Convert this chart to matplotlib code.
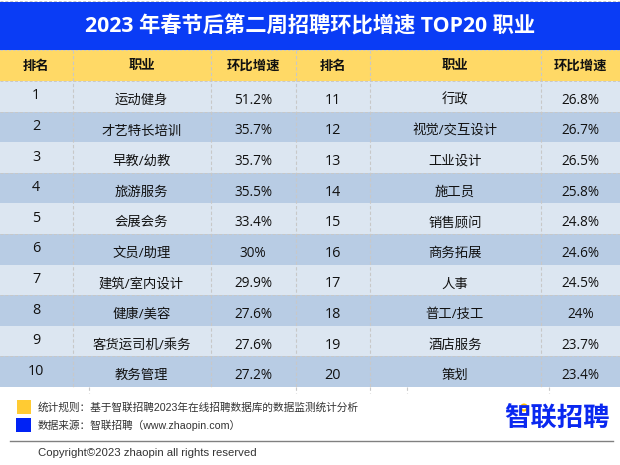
import matplotlib
matplotlib.use('Agg')
import matplotlib.pyplot as plt
from matplotlib.patches import Rectangle, Circle

# Latin and digits from Open Sans, everything else falls through to the CJK family
plt.rcParams['font.family'] = ['Open Sans', 'Noto Sans CJK SC', 'DejaVu Sans']

title = '2023 年春节后第二周招聘环比增速 TOP20 职业'
headers = ['排名', '职业', '环比增速', '排名', '职业', '环比增速']
ranks_left = ['1', '2', '3', '4', '5', '6', '7', '8', '9', '10']
jobs_left = ['运动健身', '才艺特长培训', '早教/幼教', '旅游服务', '会展会务',
             '文员/助理', '建筑/室内设计', '健康/美容', '客货运司机/乘务', '教务管理']
growth_left = ['51.2%', '35.7%', '35.7%', '35.5%', '33.4%',
               '30%', '29.9%', '27.6%', '27.6%', '27.2%']
ranks_right = ['11', '12', '13', '14', '15', '16', '17', '18', '19', '20']
jobs_right = ['行政', '视觉/交互设计', '工业设计', '施工员', '销售顾问',
              '商务拓展', '人事', '普工/技工', '酒店服务', '策划']
growth_right = ['26.8%', '26.7%', '26.5%', '25.8%', '24.8%',
                '24.6%', '24.5%', '24%', '23.7%', '23.4%']

BLUE = '#0A3CF5'
YELLOW = '#FFD966'
LIGHT = '#DCE6F1'
DARK = '#B8CCE4'
GRID = '#C8C8C8'

# column edges in pixels, the whole figure is one axes in pixel units
edges = [0, 72.5, 210.5, 296, 369.5, 540.5, 620]
row_top = 81
row_h = 30.6

fig = plt.figure(figsize=(6.2, 4.65), dpi=100)
ax = fig.add_axes([0, 0, 1, 1])
ax.set_xlim(0, 620)
ax.set_ylim(465, 0)
ax.axis('off')

ax.add_patch(Rectangle((0, 2), 620, 48, fc=BLUE, ec='none'))
ax.text(310, 26.5, title, color='white', fontsize=15.35, fontweight='bold',
        ha='center', va='center')

# header
ax.add_patch(Rectangle((0, 50), 620, 31, fc=YELLOW, ec='none'))
for i, h in enumerate(headers):
    ax.text((edges[i] + edges[i + 1]) / 2, 66, h, fontsize=9.6, fontweight='bold',
            color='#111111', ha='center', va='center')

# rows
for r in range(10):
    y = row_top + r * row_h
    ax.add_patch(Rectangle((0, y), 620, row_h, fc=LIGHT if r % 2 == 0 else DARK, ec='none'))
    c = y + row_h / 2
    cols = [ranks_left[r], jobs_left[r], growth_left[r],
            ranks_right[r], jobs_right[r], growth_right[r]]
    for i, t in enumerate(cols):
        # left rank column sits a little higher than the rest
        dy = -0.5 if i == 0 else 4
        size = 10.4 if i in (0, 3) else 9.8
        if i in (1, 4):
            size = 9.6
        ax.text((edges[i] + edges[i + 1]) / 2, c + dy, t, fontsize=size,
                color='#111111', ha='center', va='center')
    if r % 2 == 0:
        ax.plot([0, 620], [y + row_h, y + row_h], color=GRID, lw=0.7, ls=(0, (3, 2)))

# dashed column lines
bottom = row_top + 10 * row_h
for x in edges[1:-1]:
    ax.plot([x, x], [50, bottom], color=GRID, lw=0.8, ls=(0, (3, 2)))
ax.plot([0, 620], [50, 50], color=GRID, lw=0.6, ls=(0, (3, 2)))
ax.plot([0, 620], [81, 81], color=GRID, lw=0.7, ls=(0, (3, 2)))
ax.plot([0, 620], [1, 1], color=GRID, lw=0.7, ls=(0, (3, 2)))
for x in [89, 296, 369.5, 407, 549]:
    ax.plot([x, x], [bottom, bottom + 6], color=GRID, lw=0.8, ls=(0, (3, 2)))

# footer notes
note_font = ['Liberation Sans', 'Noto Sans CJK SC', 'DejaVu Sans']
ax.add_patch(Rectangle((17, 400), 14, 14, fc='#FFCB33', ec='none'))
ax.add_patch(Rectangle((16, 418), 15, 14, fc='#0022F5', ec='none'))
ax.text(38, 407, '统计规则：基于智联招聘2023年在线招聘数据库的数据监测统计分析',
        fontsize=7.7, color='#333333', ha='left', va='center', family=note_font)
ax.text(38, 425, '数据来源：智联招聘（www.zhaopin.com）',
        fontsize=7.7, color='#333333', ha='left', va='center', family=note_font)
ax.plot([10, 613], [440.5, 440.5], color='#808080', lw=1.0)
ax.text(38, 453, 'Copyright©2023 zhaopin all rights reserved', family='Liberation Sans',
        fontsize=8.2, color='#333333', ha='left', va='center')

# logo
ax.text(557, 419, '智联招聘', fontsize=19, fontweight='bold', color='#0A28F0',
        ha='center', va='center')
ax.add_patch(Circle((524, 407.5), 3, fc='white', ec='#FFC000', lw=1.5))

fig.savefig('out.png', dpi=100)
plt.close(fig)
